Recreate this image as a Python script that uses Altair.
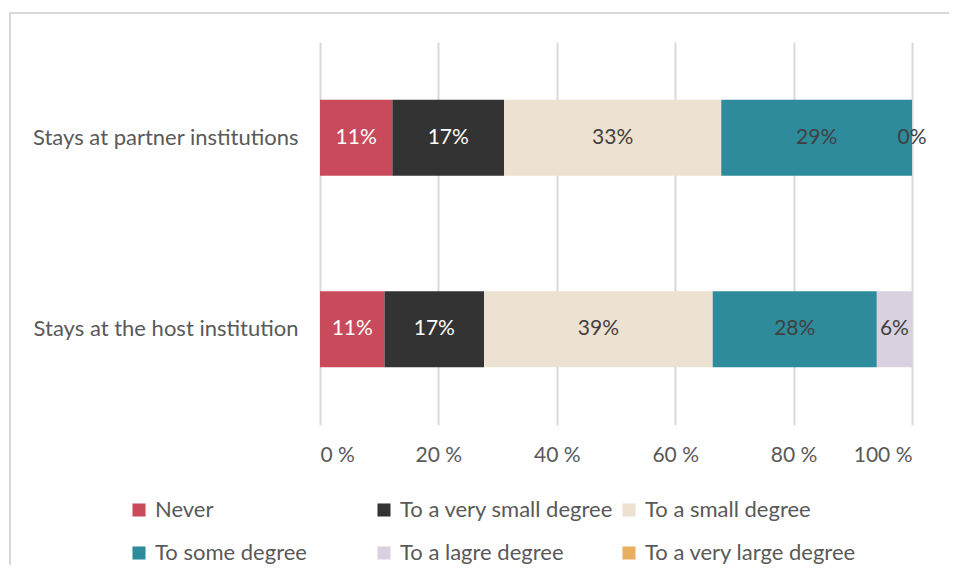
import altair as alt
import pandas as pd

categories = ["Stays at partner institutions", "Stays at the host institution"]
series = ["Never", "To a very small degree", "To a small degree",
          "To some degree", "To a lagre degree", "To a very large degree"]
colors = ["#c94a5a", "#333333", "#ede1d1", "#2e8b9c", "#d9d1e0", "#e9ae60"]
label_colors = ["#ffffff", "#ffffff", "#404040", "#404040", "#404040", "#404040"]
# percentages per series, [partner, host]; None = no data
values = {
    "Never": [11, 11],
    "To a very small degree": [17, 17],
    "To a small degree": [33, 39],
    "To some degree": [29, 28],
    "To a lagre degree": [0, 6],
    "To a very large degree": [None, None],
}
tick_values = [0, 0.2, 0.4, 0.6, 0.8, 1.0]

rows = []
for i, s in enumerate(series):
    for j, c in enumerate(categories):
        v = values[s][j]
        if v is None:
            continue
        rows.append({"category": c, "series": s, "order": i, "value": v,
                     "label": f"{v}%", "lcolor": label_colors[i]})
df = pd.DataFrame(rows)

FONT = "Lato"
GREY = "#595959"

base = alt.Chart(df).transform_stack(
    stack="value", groupby=["category"], sort=[alt.SortField("order", "ascending")],
    as_=["x0", "x1"], offset="normalize"
).transform_calculate(mid="(datum.x0 + datum.x1) / 2")

y_enc = alt.Y("category:N", sort=categories, title=None,
              scale=alt.Scale(paddingInner=0, paddingOuter=0),
              axis=alt.Axis(ticks=False, domain=False, labelFontSize=22,
                            labelColor=GREY, labelFont=FONT, labelPadding=22,
                            labelLimit=400, grid=False))

bars = base.mark_bar(size=76).encode(
    x=alt.X("x0:Q", title=None, scale=alt.Scale(domain=[0, 1], nice=False),
            axis=alt.Axis(values=tick_values, labelExpr="round(datum.value*100) + ' %'",
                          ticks=False, domain=False, grid=True, gridColor="#d9d9d9",
                          gridWidth=2, labelFontSize=21, labelColor=GREY,
                          labelFont=FONT, labelPadding=19)),
    x2="x1:Q",
    y=y_enc,
    color=alt.Color("series:N", scale=alt.Scale(domain=series, range=colors),
                    sort=series, title=None,
                    legend=alt.Legend(orient="none", legendX=-192, legendY=457,
                                      direction="horizontal", gridAlign="all",
                                      columns=3, symbolType="square", symbolSize=170,
                                      symbolStrokeWidth=0, labelFontSize=22,
                                      labelColor=GREY, labelFont=FONT, labelOffset=5,
                                      columnPadding=4, rowPadding=21,
                                      values=series, labelLimit=400)),
    order=alt.Order("order:Q"),
)

text = base.mark_text(fontSize=21, font=FONT).encode(
    x="mid:Q",
    y=alt.Y("category:N", sort=categories),
    text="label:N",
    color=alt.Color("lcolor:N", scale=None),
)

frame_df = pd.DataFrame({"k": [0]})
frame_left = alt.Chart(frame_df).mark_rule(color="#d9d9d9", strokeWidth=2).encode(
    x=alt.value(-310), y=alt.value(-29), y2=alt.value(532))
frame_top = alt.Chart(frame_df).mark_rule(color="#d9d9d9", strokeWidth=2).encode(
    x=alt.value(-311), x2=alt.value(629), y=alt.value(-29))

chart = alt.layer(frame_left, frame_top, bars, text).properties(
    width=592, height=383,
    padding={"left": 312, "top": 34, "right": 37, "bottom": 140},
    autosize=alt.AutoSizeParams(type="none"),
).configure_view(stroke=None)

chart.save("out.html", embed_options={"renderer": "svg", "actions": False})
